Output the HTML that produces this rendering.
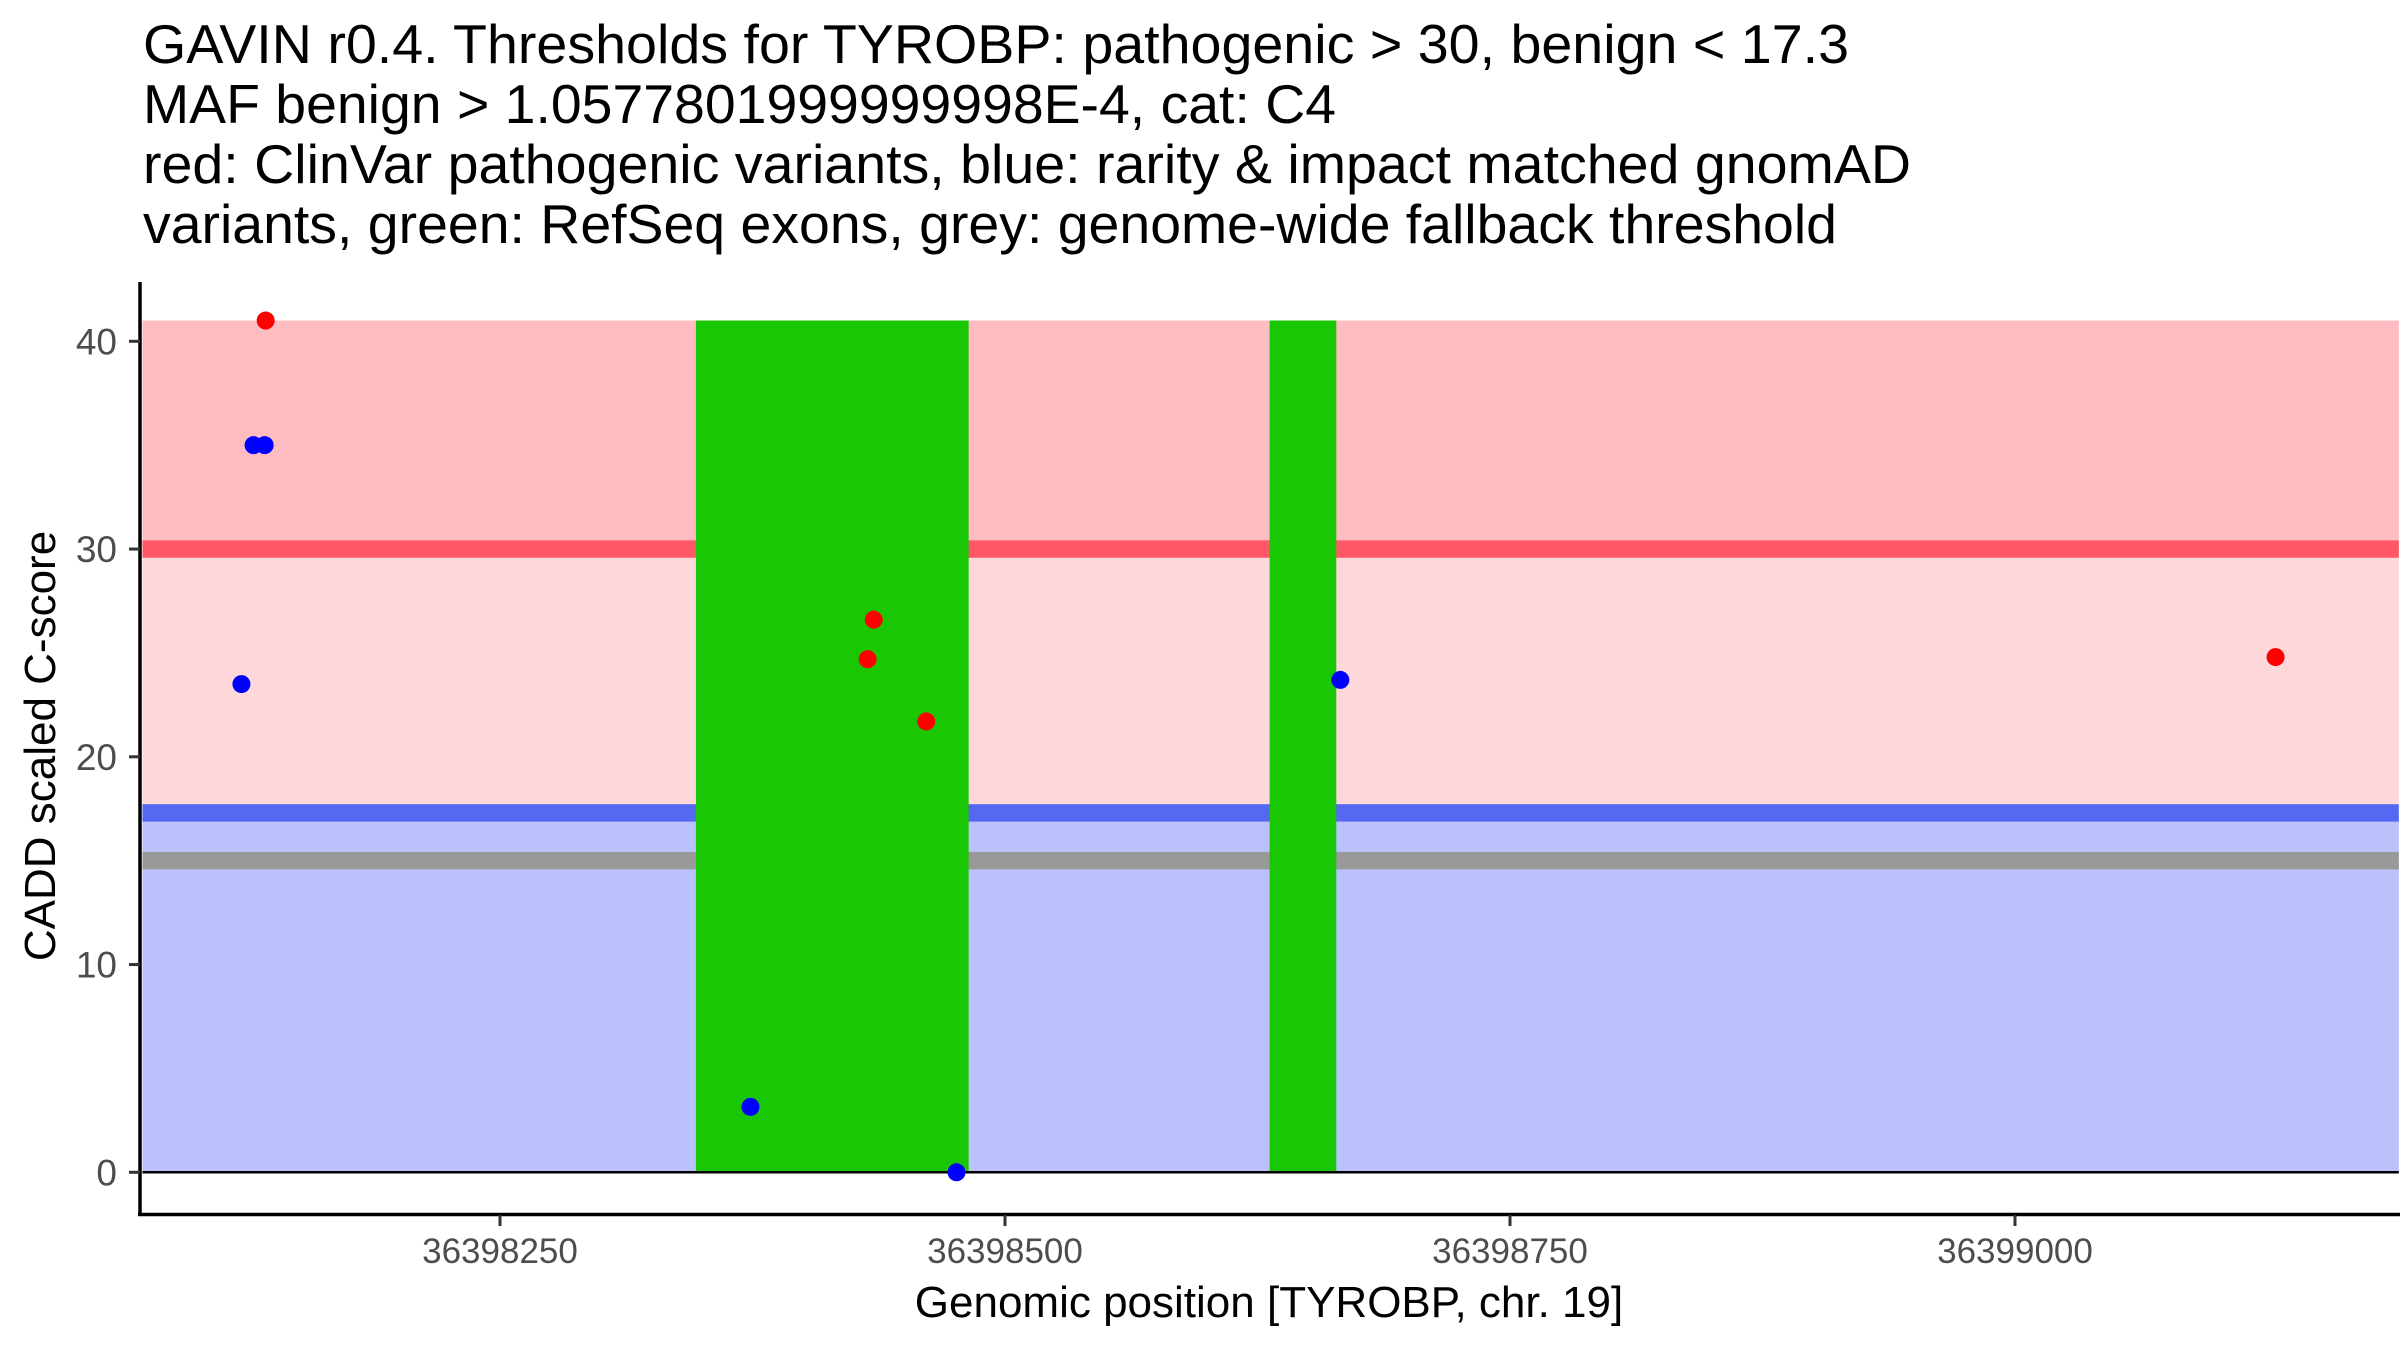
<!DOCTYPE html>
<html><head><meta charset="utf-8"><style>
html,body{margin:0;padding:0;background:#fff;}
svg{display:block;font-family:"Liberation Sans",Arial,sans-serif;}
</style></head><body>
<svg id="chart" width="2400" height="1350" viewBox="0 0 2400 1350" xmlns="http://www.w3.org/2000/svg">
<g font-size="55" fill="#000">
<text x="143" y="63" textLength="1706" lengthAdjust="spacingAndGlyphs">GAVIN r0.4. Thresholds for TYROBP: pathogenic &gt; 30, benign &lt; 17.3</text>
<text x="143" y="123" textLength="1193" lengthAdjust="spacingAndGlyphs">MAF benign &gt; 1.0577801999999998E-4, cat: C4</text>
<text x="143" y="183" textLength="1768" lengthAdjust="spacingAndGlyphs">red: ClinVar pathogenic variants, blue: rarity &amp; impact matched gnomAD</text>
<text x="143" y="243" textLength="1694" lengthAdjust="spacingAndGlyphs">variants, green: RefSeq exons, grey: genome-wide fallback threshold</text>
</g>
<g id="plot"></g>
<text x="0" y="0" font-size="44" text-anchor="middle" transform="translate(55,746) rotate(-90)">CADD scaled C-score</text>
<text x="1269" y="1317" font-size="44" text-anchor="middle">Genomic position [TYROBP, chr. 19]</text>
</svg>
<script>
const xRange = [36398073, 36399190];
const bandTop = 41;
const pathogenicThreshold = 30;
const benignThreshold = 17.3;
const fallbackThreshold = 15;
const exonStarts = [36398347, 36398631];
const exonEnds = [36398482, 36398664];
const clinvarPos = [36398134, 36398435, 36398432, 36398461, 36399129];
const clinvarScore = [41, 26.6, 24.7, 21.7, 24.8];
const gnomadPos = [36398128, 36398133.5, 36398122, 36398374, 36398476, 36398666];
const gnomadScore = [35, 35, 23.5, 3.15, 0, 23.7];
const yTicks = [0, 10, 20, 30, 40];
const xTicks = [36398250, 36398500, 36398750, 36399000];

const NS = "http://www.w3.org/2000/svg";
const g = document.getElementById('plot');
function X(v){ return 500 + (v - 36398250) * 2.02; }
function Y(v){ return 1172.3 - v * 20.775; }
function mk(tag, attrs){ const e = document.createElementNS(NS, tag); for (const k in attrs) e.setAttribute(k, attrs[k]); g.appendChild(e); return e; }
const x0 = X(xRange[0]), x1 = X(xRange[1]);
let e;
e = mk('rect', {x:x0, y:Y(bandTop), width:x1-x0, height:Y(pathogenicThreshold)-Y(bandTop), fill:'#FEBBC0'});


e = mk('rect', {x:x0, y:Y(pathogenicThreshold), width:x1-x0, height:Y(benignThreshold)-Y(pathogenicThreshold), fill:'#FED7DB'});


e = mk('rect', {x:x0, y:Y(benignThreshold), width:x1-x0, height:Y(0)-Y(benignThreshold), fill:'#BBC1FA'});


e = mk('rect', {x:x0, y:Y(pathogenicThreshold)-8.7, width:x1-x0, height:17.4, fill:'#FE5766'});


e = mk('rect', {x:x0, y:Y(benignThreshold)-8.7, width:x1-x0, height:17.4, fill:'#5468F2'});


e = mk('rect', {x:x0, y:Y(fallbackThreshold)-8.7, width:x1-x0, height:17.4, fill:'#999999'});


for (let i = 0; i < exonStarts.length; i++) {
  e = mk('rect', {x:X(exonStarts[i]), y:Y(bandTop), width:X(exonEnds[i])-X(exonStarts[i]), height:Y(0)-Y(bandTop), fill:'#1AC704'});
  
  
}
e = mk('line', {x1:x0, x2:x1, y1:Y(0), y2:Y(0), stroke:'#000', 'stroke-width':2.5});


for (let i = 0; i < gnomadPos.length; i++) {
  e = mk('circle', {cx:X(gnomadPos[i]), cy:Y(gnomadScore[i]), r:9, fill:'#0000FF'});
  
  
}
for (let i = 0; i < clinvarPos.length; i++) {
  e = mk('circle', {cx:X(clinvarPos[i]), cy:Y(clinvarScore[i]), r:9, fill:'#FF0000'});
  
  
}
e = mk('line', {x1:140, x2:140, y1:282, y2:1216, stroke:'#000', 'stroke-width':3.5});


e = mk('line', {x1:138, x2:2400, y1:1214.5, y2:1214.5, stroke:'#000', 'stroke-width':3.5});


for (const t of yTicks) {
  e = mk('line', {x1:129, x2:140, y1:Y(t), y2:Y(t), stroke:'#333', 'stroke-width':3});
  
  
  e = mk('text', {x:117, y:Y(t)+13, 'font-size':37, fill:'#4D4D4D', 'text-anchor':'end'});
  e.textContent = t;
  
  
}
for (const t of xTicks) {
  e = mk('line', {x1:X(t), x2:X(t), y1:1215, y2:1226, stroke:'#333', 'stroke-width':3});
  
  
  e = mk('text', {x:X(t), y:1263, 'font-size':35, fill:'#4D4D4D', 'text-anchor':'middle'});
  e.textContent = t;
  
  
}
</script>
</body></html>
